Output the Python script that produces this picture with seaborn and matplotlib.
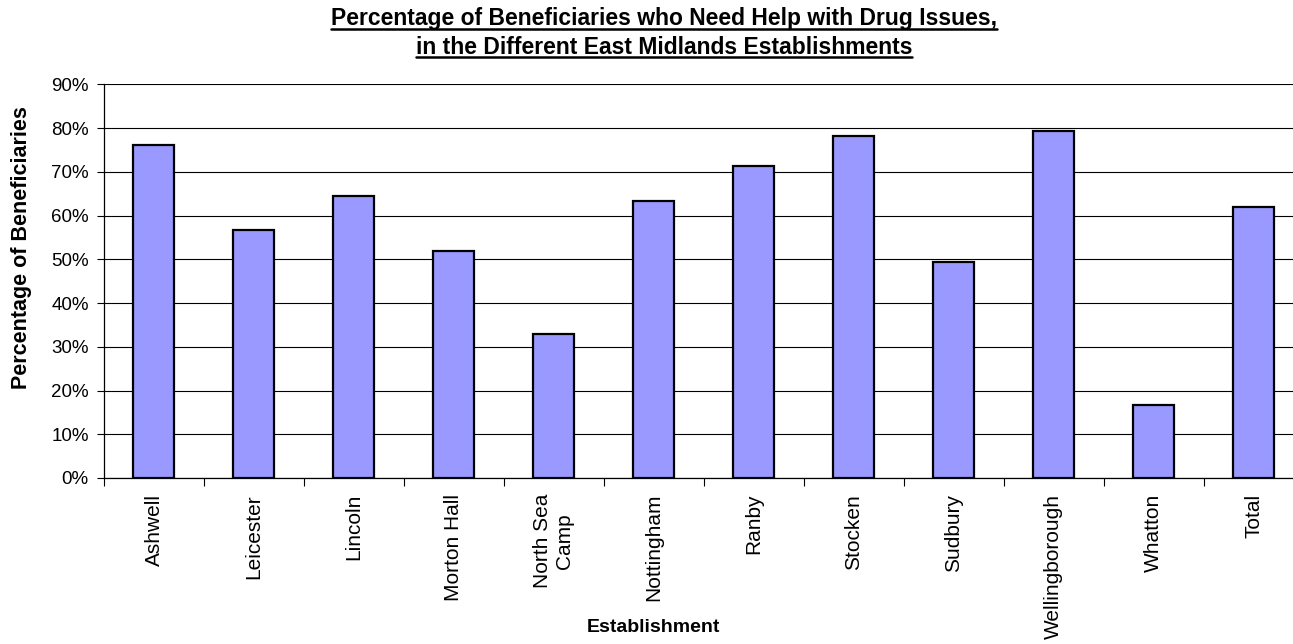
import matplotlib
matplotlib.use("Agg")
import matplotlib.pyplot as plt
import seaborn as sns
import pandas as pd
from matplotlib.ticker import PercentFormatter

establishments = ["Ashwell", "Leicester", "Lincoln", "Morton Hall", "North Sea\nCamp",
                  "Nottingham", "Ranby", "Stocken", "Sudbury", "Wellingborough",
                  "Whatton", "Total"]
pct_drug_help = [76.2, 56.7, 64.5, 51.8, 33.0, 63.4, 71.3, 78.3, 49.3, 79.4, 16.7, 61.9]

df = pd.DataFrame({"Establishment": establishments, "Percentage": pct_drug_help})

sns.set_style("white")
plt.rcParams["font.family"] = ["Liberation Sans", "DejaVu Sans"]
plt.rcParams["text.color"] = "black"
plt.rcParams["axes.labelcolor"] = "black"

fig = plt.figure(figsize=(12.93, 6.44), dpi=100)
ax = fig.add_axes([0.0804, 0.2578, 0.928, 0.6112])

sns.barplot(data=df, x="Establishment", y="Percentage", color="#9999FF",
            saturation=1, edgecolor="black", linewidth=1.6, width=0.41, ax=ax, zorder=3)

ax.set_ylim(0, 90)
ax.set_yticks(range(0, 91, 10))
ax.yaxis.set_major_formatter(PercentFormatter(decimals=0))
ax.grid(axis="y", color="black", linewidth=0.8, zorder=0)
ax.set_axisbelow(True)
ax.set_xlim(-0.5, len(establishments) - 0.5)

for s in ["top", "right"]:
    ax.spines[s].set_visible(False)
for s in ["left", "bottom"]:
    ax.spines[s].set_color("black")
    ax.spines[s].set_linewidth(0.9)

# ticks between categories on x, labels at centres
ax.set_xticks([i - 0.5 for i in range(len(establishments) + 1)], minor=False)
ax.set_xticklabels([])
ax.set_xticks(range(len(establishments)), minor=True)
ax.set_xticklabels(establishments, minor=True, rotation=90, fontsize=15,
                   va="top", ha="center", multialignment="center")
ax.tick_params(axis="x", which="major", bottom=True, direction="out", length=6,
               width=0.8, color="black")
ax.tick_params(axis="x", which="minor", bottom=True, length=0, pad=11.5, labelcolor="black")
ax.tick_params(axis="y", left=True, direction="out", length=5, width=0.8, color="black",
               labelsize=13.5, pad=6, labelcolor="black")

ax.set_xlabel("Establishment", fontsize=14, fontweight="bold")
ax.xaxis.label.set_va("center")
ax.xaxis.set_label_coords(653 / 1293, 1 - 628 / 644, transform=fig.transFigure)
ax.set_ylabel("Percentage of Beneficiaries", fontsize=15.5, fontweight="bold")
ax.yaxis.label.set_va("center")
ax.yaxis.set_label_coords(22 / 1293, 1 - 248 / 644, transform=fig.transFigure)

# underlined two-line title
title_lines = ["Percentage of Beneficiaries who Need Help with Drug Issues,",
               "in the Different East Midlands Establishments"]
title_y = [1 - 19 / 644, 1 - 47 / 644]
texts = [fig.text(664 / 1293, y, t, ha="center", va="center", fontsize=16.5, fontweight="bold")
         for t, y in zip(title_lines, title_y)]
fig.canvas.draw()
renderer = fig.canvas.get_renderer()
inv = fig.transFigure.inverted()
for t in texts:
    bb = t.get_window_extent(renderer)
    (x0, y0), (x1, y1) = inv.transform([(bb.x0, bb.y0), (bb.x1, bb.y1)])
    fig.add_artist(plt.Line2D([x0, x1], [y0 + 0.002, y0 + 0.002], color="black",
                              linewidth=1.8, transform=fig.transFigure))

fig.savefig("out.png", dpi=100)
